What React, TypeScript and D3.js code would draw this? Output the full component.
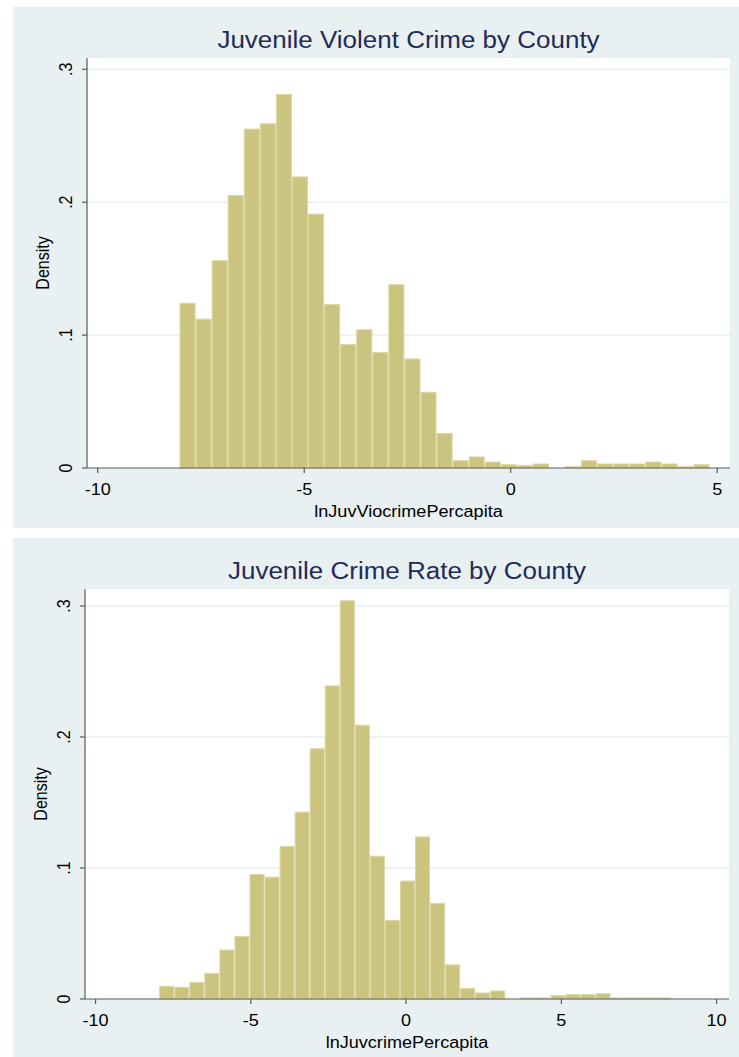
import React from "react";
import * as d3 from "d3";

// Top chart: Juvenile Violent Crime by County
const violentBinStart = -8.02;
const violentBinWidth = 0.389;
const violentDensity = [
  0.124, 0.112, 0.156, 0.205, 0.255, 0.259, 0.281, 0.219, 0.191, 0.123, 0.093,
  0.104, 0.087, 0.138, 0.082, 0.057, 0.026, 0.0055, 0.0083, 0.0045, 0.0025,
  0.002, 0.003, 0, 0.001, 0.0055, 0.003, 0.003, 0.003, 0.0045, 0.003, 0.001,
  0.0025,
];
const violentXTicks = [-10, -5, 0, 5];

// Bottom chart: Juvenile Crime Rate by County
const crimeBinStart = -7.95;
const crimeBinWidth = 0.4846;
const crimeDensity = [
  0.0097, 0.0089, 0.0127, 0.0196, 0.0374, 0.0478, 0.095, 0.093, 0.1165, 0.1427,
  0.191, 0.239, 0.304, 0.209, 0.109, 0.06, 0.09, 0.1237, 0.073, 0.026, 0.0081,
  0.0046, 0.0061, 0, 0.0008, 0.0008, 0.0025, 0.0033, 0.0033, 0.004, 0.0008,
  0.0008, 0.0008, 0.0008,
];
const crimeXTicks = [-10, -5, 0, 5, 10];

const yTicks = [0, 0.1, 0.2, 0.3];
const yTickLabels = ["0", ".1", ".2", ".3"];

const FONT = "'Liberation Sans', Arial, Helvetica, sans-serif";
const BG = "#e9f0f2";
const BAR_FILL = "#cbc47f";
const BAR_STROKE = "#dcd7a4";
const TITLE_COLOR = "#1f2b58";
const AXIS_COLOR = "#5a5a5a";
const SX = 1.13; // horizontal stretch of the text in the reference

type HistProps = {
  top: number;
  height: number;
  title: string;
  xTitle: string;
  density: number[];
  binStart: number;
  binWidth: number;
  xDomain: [number, number];
  yMax: number;
  xTicks: number[];
  plotLeft: number;
  plotRight: number;
  plotTop: number;
  plotBottom: number;
};

function Histogram(p: HistProps) {
  const x = d3.scaleLinear().domain(p.xDomain).range([p.plotLeft, p.plotRight]);
  const y = d3.scaleLinear().domain([0, p.yMax]).range([p.plotBottom, p.plotTop]);
  const midX = (p.plotLeft + p.plotRight) / 2;
  const midY = (p.plotTop + p.plotBottom) / 2;
  return (
    <g>
      <rect x={13} y={p.top} width={726} height={p.height} fill={BG} />
      <rect
        x={p.plotLeft}
        y={p.plotTop}
        width={p.plotRight - p.plotLeft}
        height={p.plotBottom - p.plotTop}
        fill="#ffffff"
      />
      <text
        transform={`translate(${midX},${p.top + 41}) scale(${SX},1)`}
        textAnchor="middle"
        fontFamily={FONT}
        fontSize={23}
        fill={TITLE_COLOR}
      >
        {p.title}
      </text>
      {yTicks
        .filter((t) => t > 0)
        .map((t) => (
          <line
            key={"g" + t}
            x1={p.plotLeft}
            x2={p.plotRight}
            y1={y(t)}
            y2={y(t)}
            stroke="#e7efee"
            strokeWidth={1.5}
          />
        ))}
      {p.density.map((d, i) => {
        const x0 = x(p.binStart + i * p.binWidth);
        const x1 = x(p.binStart + (i + 1) * p.binWidth);
        if (d <= 0) return null;
        return (
          <rect
            key={"b" + i}
            x={x0 + 0.5}
            y={y(d)}
            width={x1 - x0 - 1}
            height={y(0) - y(d)}
            fill={BAR_FILL}
            stroke={BAR_STROKE}
            strokeWidth={1}
          />
        );
      })}
      <line
        x1={p.plotLeft}
        x2={p.plotLeft}
        y1={p.plotTop}
        y2={p.plotBottom}
        stroke={AXIS_COLOR}
        strokeWidth={1.2}
      />
      <line
        x1={p.plotLeft}
        x2={p.plotRight}
        y1={p.plotBottom}
        y2={p.plotBottom}
        stroke={AXIS_COLOR}
        strokeWidth={1.2}
      />
      {yTicks.map((t, i) => (
        <g key={"yt" + t}>
          <line
            x1={p.plotLeft - 5}
            x2={p.plotLeft}
            y1={y(t)}
            y2={y(t)}
            stroke={AXIS_COLOR}
            strokeWidth={1.2}
          />
          <text
            transform={`translate(${p.plotLeft - 15},${y(t)}) scale(${SX},1) rotate(-90)`}
            textAnchor="middle"
            fontFamily={FONT}
            fontSize={16}
            fill="#000"
          >
            {yTickLabels[i]}
          </text>
        </g>
      ))}
      {p.xTicks.map((t) => (
        <g key={"xt" + t}>
          <line
            x1={x(t)}
            x2={x(t)}
            y1={p.plotBottom}
            y2={p.plotBottom + 5}
            stroke={AXIS_COLOR}
            strokeWidth={1.2}
          />
          <text
            transform={`translate(${x(t)},${p.plotBottom + 27}) scale(${SX},1)`}
            textAnchor="middle"
            fontFamily={FONT}
            fontSize={16}
            fill="#000"
          >
            {t}
          </text>
        </g>
      ))}
      <text
        transform={`translate(${p.plotLeft - 38},${midY}) scale(${SX},1) rotate(-90)`}
        textAnchor="middle"
        fontFamily={FONT}
        fontSize={16}
        fill="#000"
      >
        Density
      </text>
      <text
        transform={`translate(${midX},${p.plotBottom + 49}) scale(${SX},1)`}
        textAnchor="middle"
        fontFamily={FONT}
        fontSize={16}
        fill="#000"
      >
        {p.xTitle}
      </text>
    </g>
  );
}

export default function App() {
  return (
    <svg
      width={739}
      height={1057}
      style={{ position: "absolute", left: 0, top: 0 }}
    >
      <rect x={0} y={0} width={739} height={1057} fill="#ffffff" />
      <Histogram
        top={7}
        height={521}
        title="Juvenile Violent Crime by County"
        xTitle="lnJuvViocrimePercapita"
        density={violentDensity}
        binStart={violentBinStart}
        binWidth={violentBinWidth}
        xDomain={[-10.26, 5.31]}
        yMax={0.3085}
        xTicks={violentXTicks}
        plotLeft={87}
        plotRight={730}
        plotTop={58}
        plotBottom={468}
      />
      <Histogram
        top={538}
        height={519}
        title="Juvenile Crime Rate by County"
        xTitle="lnJuvcrimePercapita"
        density={crimeDensity}
        binStart={crimeBinStart}
        binWidth={crimeBinWidth}
        xDomain={[-10.34, 10.4]}
        yMax={0.313}
        xTicks={crimeXTicks}
        plotLeft={85}
        plotRight={729}
        plotTop={589}
        plotBottom={999}
      />
    </svg>
  );
}
